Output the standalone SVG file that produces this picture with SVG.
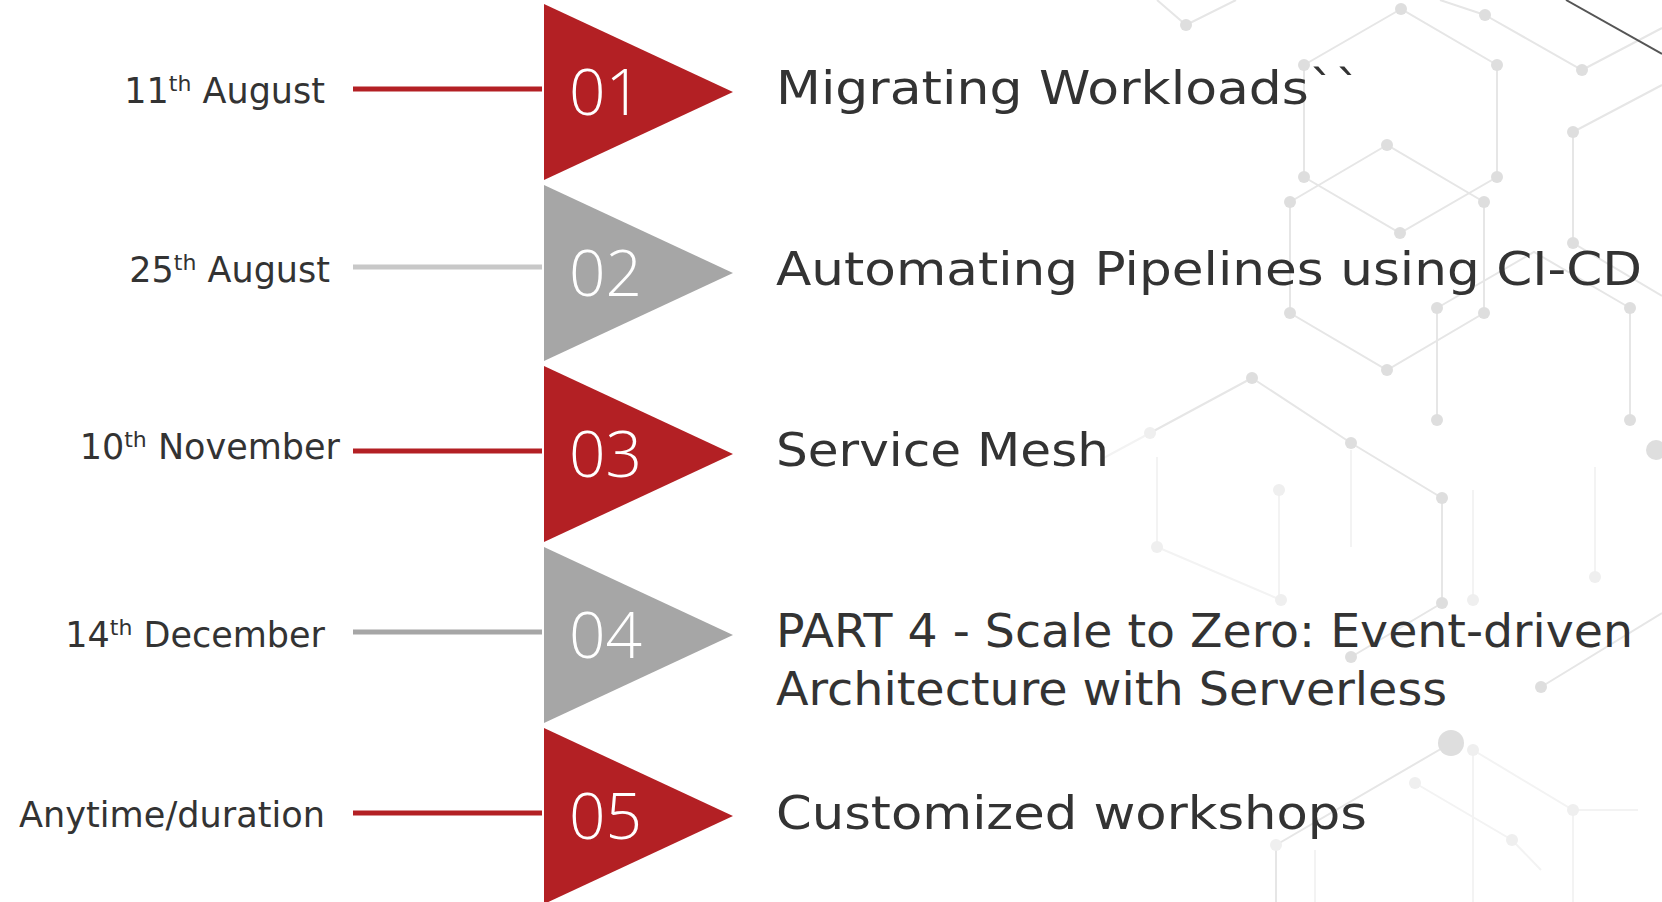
<svg xmlns="http://www.w3.org/2000/svg" width="1662" height="902" viewBox="0 0 1662 902">
<style>
.bg{fill:#fff}
.hx{fill:none;stroke:#e6e6e6;stroke-width:2}
.hf{fill:none;stroke:#f3f3f3;stroke-width:2}
.dt{fill:#dedede}
.df{fill:#efefef}
.red{fill:#b32024}
.gry{fill:#a6a6a6}
.lr{stroke:#b32024;stroke-width:5}
.lg1{stroke:#c8c8c8;stroke-width:5}
.lg2{stroke:#a6a6a6;stroke-width:5}
.num{font-family:"Open Sans","DejaVu Sans",sans-serif;font-weight:300;font-size:64px;fill:#fff}
.date{font-family:"DejaVu Sans","Liberation Sans",sans-serif;font-size:35px;fill:#333;text-anchor:end}
.sup{font-size:22px}
.ttl{font-family:"DejaVu Sans","Liberation Sans",sans-serif;font-size:46px;fill:#333}
</style>
<rect class="bg" x="0" y="0" width="1662" height="902"/>
<g id="background">
  <path class="hf" d="M1157,457 V547 M1157,547 L1281,600 M1279,490 V600 M1351,547 V450 M1473,490 V600 M1595,467 V577 M1473,750 L1573,810 L1638,810 M1415,783 L1512,840 L1541,870 M1315,850 V902 M1150,433 L1100,460 M1473,750 V902 M1573,810 V902"/>
  <path class="hx" d="M1157,0 L1186,25 L1236,0 M1401,9 L1304,65 V177 L1400,233 L1497,177 V65 Z M1387,145 L1290,202 V313 L1387,370 L1484,313 V202 Z M1485,15 L1582,70 L1662,28 M1440,0 L1485,15 M1573,132 V243 L1662,296 M1573,132 L1662,85 M1437,308 V420 M1630,308 V420 M1437,308 L1534,252 L1630,308 M1252,378 L1150,433 M1252,378 L1351,443 L1442,498 V603 L1351,657 M1541,687 L1662,613 M1451,743 L1276,845 V902"/>
  <path d="M1566,0 L1662,54" fill="none" stroke="#555" stroke-width="2"/>
  <g class="dt">
    <circle cx="1186" cy="25" r="6"/><circle cx="1401" cy="9" r="6"/><circle cx="1304" cy="65" r="6"/><circle cx="1497" cy="65" r="6"/>
    <circle cx="1304" cy="177" r="6"/><circle cx="1497" cy="177" r="6"/><circle cx="1400" cy="233" r="6"/>
    <circle cx="1387" cy="145" r="6"/><circle cx="1290" cy="202" r="6"/><circle cx="1484" cy="202" r="6"/>
    <circle cx="1290" cy="313" r="6"/><circle cx="1484" cy="313" r="6"/><circle cx="1387" cy="370" r="6"/>
    <circle cx="1485" cy="15" r="6"/><circle cx="1582" cy="70" r="6"/><circle cx="1573" cy="132" r="6"/><circle cx="1573" cy="243" r="6"/>
    <circle cx="1437" cy="308" r="6"/><circle cx="1630" cy="308" r="6"/><circle cx="1437" cy="420" r="6"/><circle cx="1630" cy="420" r="6"/>
    <circle cx="1252" cy="378" r="6"/><circle cx="1351" cy="443" r="6"/><circle cx="1442" cy="498" r="6"/><circle cx="1442" cy="603" r="6"/>
    <circle cx="1351" cy="657" r="6"/><circle cx="1541" cy="687" r="6"/><circle cx="1451" cy="743" r="13"/><circle cx="1656" cy="450" r="10"/>
  </g>
  <g class="df">
    <circle cx="1157" cy="547" r="6"/><circle cx="1281" cy="600" r="6"/><circle cx="1279" cy="490" r="6"/><circle cx="1473" cy="600" r="6"/>
    <circle cx="1595" cy="577" r="6"/><circle cx="1473" cy="750" r="6"/><circle cx="1573" cy="810" r="6"/><circle cx="1415" cy="783" r="6"/>
    <circle cx="1512" cy="840" r="6"/><circle cx="1276" cy="845" r="6"/><circle cx="1150" cy="433" r="6"/>
  </g>
</g>
<g id="connectors">
  <line class="lr" x1="353" y1="89" x2="542" y2="89"/>
  <line class="lg1" x1="353" y1="267" x2="542" y2="267"/>
  <line class="lr" x1="353" y1="451" x2="542" y2="451"/>
  <line class="lg2" x1="353" y1="632" x2="542" y2="632"/>
  <line class="lr" x1="353" y1="813" x2="542" y2="813"/>
</g>
<g id="node-1">
  <polygon class="red" points="544,4 733,92 544,180"/>
  <text class="num" x="569" y="115">01</text>
  <text class="date" x="325" y="103">11<tspan class="sup" dy="-12">th</tspan><tspan dy="12"> August</tspan></text>
  <text class="ttl" x="776" y="104" textLength="585" lengthAdjust="spacingAndGlyphs">Migrating Workloads``</text>
</g>
<g id="node-2">
  <polygon class="gry" points="544,185 733,273 544,361"/>
  <text class="num" x="569" y="296">02</text>
  <text class="date" x="330" y="282">25<tspan class="sup" dy="-12">th</tspan><tspan dy="12"> August</tspan></text>
  <text class="ttl" x="776" y="285" textLength="866" lengthAdjust="spacingAndGlyphs">Automating Pipelines using CI-CD</text>
</g>
<g id="node-3">
  <polygon class="red" points="544,366 733,454 544,542"/>
  <text class="num" x="569" y="477">03</text>
  <text class="date" x="340" y="459">10<tspan class="sup" dy="-12">th</tspan><tspan dy="12"> November</tspan></text>
  <text class="ttl" x="776" y="466" textLength="333" lengthAdjust="spacingAndGlyphs">Service Mesh</text>
</g>
<g id="node-4">
  <polygon class="gry" points="544,547 733,635 544,723"/>
  <text class="num" x="569" y="658">04</text>
  <text class="date" x="325" y="647">14<tspan class="sup" dy="-12">th</tspan><tspan dy="12"> December</tspan></text>
  <text class="ttl" x="776" y="647" textLength="857" lengthAdjust="spacingAndGlyphs">PART 4 - Scale to Zero: Event-driven</text>
  <text class="ttl" x="776" y="705" textLength="671" lengthAdjust="spacingAndGlyphs">Architecture with Serverless</text>
</g>
<g id="node-5">
  <polygon class="red" points="544,728 733,816 544,904"/>
  <text class="num" x="569" y="839">05</text>
  <text class="date" x="325" y="827" textLength="306" lengthAdjust="spacingAndGlyphs">Anytime/duration</text>
  <text class="ttl" x="776" y="829" textLength="591" lengthAdjust="spacingAndGlyphs">Customized workshops</text>
</g>
</svg>
